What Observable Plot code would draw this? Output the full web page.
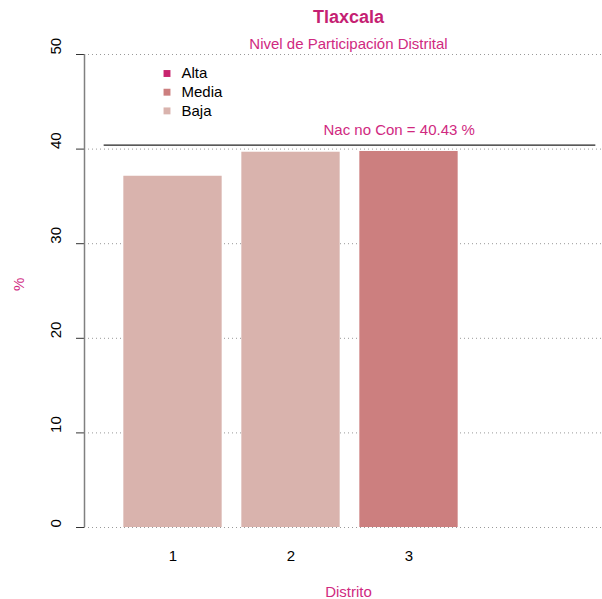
<!DOCTYPE html>
<html>
<head>
<meta charset="utf-8">
<script src="https://cdn.jsdelivr.net/npm/d3@7"></script>
<script src="https://cdn.jsdelivr.net/npm/@observablehq/plot@0.6"></script>
<style>
  html, body { margin: 0; padding: 0; background: #fff; }
</style>
</head>
<body>
<div id="chart"></div>
<script>
const titleText = "Tlaxcala";
const subtitleText = "Nivel de Participación Distrital";
const xLabel = "Distrito";
const yLabel = "%";
const categories = ["1", "2", "3"];
const values = [37.13, 39.67, 39.75];
const levels = ["Baja", "Baja", "Media"];
const legendLevels = ["Alta", "Media", "Baja"];
const levelColors = ["#C8246E", "#CC7F7F", "#D9B3AD"];
const yTicks = [0, 10, 20, 30, 40, 50];
const nacional = 40.43;
const nacionalLabel = "Nac no Con = " + nacional.toFixed(2) + " %";

const xDomain = [-0.2, 5.2];
const barWidth = 1, barSpace = 0.2;
const data = categories.map((c, i) => ({
  cat: c,
  value: values[i],
  level: levels[i],
  x1: barSpace + i * (barWidth + barSpace),
  x2: barSpace + i * (barWidth + barSpace) + barWidth
}));

const font = "'Liberation Sans', Arial, Helvetica, sans-serif";
const pink = "#D0297F";
const titlePink = "#C51F73";

const legendMarks = legendLevels.flatMap((lv, i) => [
  Plot.dot([lv], {frameAnchor: "top-left", dx: 82.5, dy: 19 + i * 18.7, symbol: "square", r: 3.9, fill: levelColors[i], stroke: "none"}),
  Plot.text([lv], {frameAnchor: "top-left", lineAnchor: "middle", dx: 97, dy: 19 + i * 18.7, text: d => d, textAnchor: "start", fontSize: 15, fill: "#000"})
]);

const chart = Plot.plot({
  width: 602,
  height: 599,
  marginTop: 54,
  marginBottom: 72,
  marginLeft: 84,
  marginRight: 0,
  style: {fontFamily: font, fontSize: "15px", background: "#fff", overflow: "visible"},
  x: {domain: xDomain, range: [84, 615], axis: null},
  y: {domain: [0, 50], axis: null},
  color: {domain: legendLevels, range: levelColors},
  marks: [
    Plot.gridY(yTicks, {stroke: "#999", strokeOpacity: 1, strokeDasharray: "1,3", strokeWidth: 1}),
    Plot.rectY(data, {x1: "x1", x2: "x2", y: "value", fill: "level"}),
    Plot.ruleY([nacional], {x1: 0, x2: 5, stroke: "#222", strokeWidth: 1.2}),
    Plot.text([nacionalLabel], {x: 3, y: [nacional], text: d => d, lineAnchor: "middle", dy: -14.5, fill: pink, fontSize: 15}),
    Plot.axisY({ticks: yTicks, tickSize: 8, tickFormat: () => "", label: null, stroke: "#333"}),
    Plot.ruleX([xDomain[0]], {y1: yTicks[0], y2: yTicks[yTicks.length - 1], stroke: "#808080", strokeWidth: 1.5}),
    Plot.text(yTicks, {y: d => d, text: d => String(d), frameAnchor: "left", lineAnchor: "middle", dx: -28, rotate: -90, fontSize: 15, fill: "#000"}),
    Plot.text(data, {x: d => (d.x1 + d.x2) / 2, text: "cat", frameAnchor: "bottom", lineAnchor: "middle", dy: 29, fontSize: 15, fill: "#000"}),
    Plot.text([titleText], {frameAnchor: "top", lineAnchor: "middle", dx: 5, dy: -37, text: d => d, fontSize: 18, fontWeight: "bold", fill: titlePink}),
    Plot.text([subtitleText], {frameAnchor: "top", lineAnchor: "middle", dx: 5, dy: -10, text: d => d, fontSize: 15, fill: pink}),
    Plot.text([xLabel], {frameAnchor: "bottom", lineAnchor: "middle", dx: 5, dy: 65, text: d => d, fontSize: 15, fill: pink}),
    Plot.text([yLabel], {frameAnchor: "left", lineAnchor: "middle", dx: -65, rotate: -90, text: d => d, fontSize: 15, fill: pink}),
    ...legendMarks
  ]
});
document.getElementById("chart").appendChild(chart);
</script>
</body>
</html>
